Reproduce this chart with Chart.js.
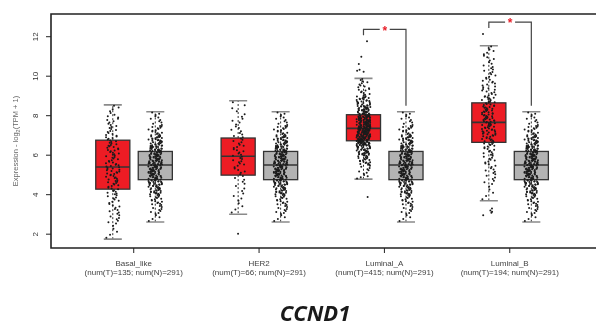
<!DOCTYPE html>
<html>
<head>
<meta charset="utf-8">
<script src="https://cdn.jsdelivr.net/npm/chart.js@4.4.0/dist/chart.umd.min.js"></script>
<style>
  html, body { margin: 0; padding: 0; background: #fff; overflow: hidden; }
  #wrap { width: 596px; height: 326px; position: relative; }
</style>
</head>
<body>
<div id="wrap"><canvas id="chart" width="596" height="326"></canvas></div>
<script>
// ---- data ----
const categories = ["Basal_like", "HER2", "Luminal_A", "Luminal_B"];
const numT = [135, 66, 415, 194];
const numN = [291, 291, 291, 291];
const yTicks = [2, 4, 6, 8, 10, 12];
const geneName = "CCND1";

// box stats [whiskerLow, q1, median, q3, whiskerHigh]
const tumorStats = [
  [1.75, 4.28, 5.40, 6.76, 8.55],
  [3.01, 4.99, 5.95, 6.87, 8.76],
  [4.79, 6.73, 7.36, 8.05, 9.89],
  [3.69, 6.65, 7.66, 8.65, 11.54]
];
const normalStats = [2.62, 4.76, 5.50, 6.19, 8.20];

// histograms of the jittered points: bin edges + counts per bin
const normalEdges  = [2.62, 3, 3.5, 4, 4.5, 5, 5.5, 6, 6.5, 7, 7.5, 8, 8.2];
const normalCounts = [4, 10, 16, 28, 40, 46, 48, 42, 30, 16, 8, 3];

const basalEdges  = [1.75, 2.5, 3, 3.5, 4, 4.5, 5, 5.5, 6, 6.5, 7, 7.5, 8, 8.55];
const basalCounts = [5, 7, 8, 9, 12, 14, 16, 13, 14, 13, 10, 8, 6];

const her2Edges  = [3.01, 3.5, 4, 4.5, 5, 5.5, 6, 6.5, 7, 7.5, 8, 8.76];
const her2Counts = [3, 4, 4, 5, 7, 9, 9, 8, 6, 5, 5];
const her2Outliers = [2.02];

const lumAEdges  = [4.79, 5.5, 6, 6.5, 7, 7.5, 8, 8.5, 9, 9.5, 9.89];
const lumACounts = [12, 22, 38, 84, 90, 72, 45, 26, 12, 7];
const lumAOutliers = [11.77, 10.99, 10.62, 10.33, 10.23, 10.27, 3.88];

const lumBEdges  = [3.69, 4.5, 5, 5.5, 6, 6.5, 7, 7.5, 8, 8.5, 9, 9.5, 10, 10.5, 11, 11.54];
const lumBCounts = [5, 6, 8, 10, 12, 18, 22, 24, 22, 18, 12, 10, 8, 6, 7];
const lumBOutliers = [12.14, 3.30, 3.20, 3.13, 2.96, 3.08];

const tumorBins = [
  { edges: basalEdges, counts: basalCounts, out: [] },
  { edges: her2Edges,  counts: her2Counts,  out: her2Outliers },
  { edges: lumAEdges,  counts: lumACounts,  out: lumAOutliers },
  { edges: lumBEdges,  counts: lumBCounts,  out: lumBOutliers }
];
// significant comparisons (category index)
const significant = [2, 3];

// ---- layout constants ----
const T_OFF = -0.167, N_OFF = 0.172;   // group offsets from category centre
const BOX_HW = 0.136, CAP_HW = 0.072, JIT = 0.055;

// spread binned counts into points, fixed (quadratic Weyl) jitter pattern on x
function binsToPoints(edges, counts, outliers, cx) {
  const pts = [];
  let k = 0;
  const jx = () => { k++; return cx + ((k * k * 0.6180339887 + k * 0.41421356) % 1 - 0.5) * 2 * JIT; };
  counts.forEach((c, i) => {
    const a = edges[i], b = edges[i + 1];
    for (let j = 0; j < c; j++) pts.push({ x: jx(), y: a + (b - a) * (j + 0.5) / c });
  });
  (outliers || []).forEach(v => pts.push({ x: jx(), y: v }));
  return pts;
}

const pointSets = [];
categories.forEach((c, i) => {
  const tb = tumorBins[i];
  pointSets.push(binsToPoints(tb.edges, tb.counts, tb.out, i + T_OFF));
  pointSets.push(binsToPoints(normalEdges, normalCounts, [], i + N_OFF));
});

// ---- drawing plugin: frame, boxes, axes text, brackets, title ----
const boxPlugin = {
  id: "boxPlugin",
  beforeDatasetsDraw(chart) {
    const { ctx, scales: { x, y } } = chart;
    ctx.save();
    const drawBox = (s, cx, fill) => {
      const l = x.getPixelForValue(cx - BOX_HW), r = x.getPixelForValue(cx + BOX_HW);
      const cl = x.getPixelForValue(cx - CAP_HW), cr = x.getPixelForValue(cx + CAP_HW);
      const px = x.getPixelForValue(cx);
      const [lo, q1, md, q3, hi] = s.map(v => y.getPixelForValue(v));
      // whiskers
      ctx.strokeStyle = "#333"; ctx.lineWidth = 1; ctx.setLineDash([2, 2]);
      ctx.beginPath(); ctx.moveTo(px, q3); ctx.lineTo(px, hi);
      ctx.moveTo(px, q1); ctx.lineTo(px, lo); ctx.stroke();
      ctx.setLineDash([]);
      ctx.strokeStyle = "#8a8a8a"; ctx.lineWidth = 1.6;
      ctx.beginPath(); ctx.moveTo(cl, hi); ctx.lineTo(cr, hi);
      ctx.moveTo(cl, lo); ctx.lineTo(cr, lo); ctx.stroke();
      // box
      ctx.fillStyle = fill; ctx.fillRect(l, q3, r - l, q1 - q3);
      ctx.strokeStyle = "#333"; ctx.lineWidth = 1.3;
      ctx.strokeRect(l, q3, r - l, q1 - q3);
      ctx.lineWidth = 1.6;
      ctx.beginPath(); ctx.moveTo(l, md); ctx.lineTo(r, md); ctx.stroke();
    };
    categories.forEach((c, i) => {
      drawBox(tumorStats[i], i + T_OFF, "#ed1c24");
      drawBox(normalStats, i + N_OFF, "#b3b3b3");
    });
    ctx.restore();
  },
  afterDatasetsDraw(chart) {
    const { ctx, chartArea: ca, scales: { x, y } } = chart;
    ctx.save();
    // frame
    ctx.strokeStyle = "#222"; ctx.lineWidth = 1.6;
    ctx.beginPath();
    ctx.moveTo(ca.right + 2, ca.top); ctx.lineTo(ca.left, ca.top);
    ctx.lineTo(ca.left, ca.bottom); ctx.lineTo(ca.right + 2, ca.bottom);
    ctx.stroke();
    // y ticks
    ctx.lineWidth = 1; ctx.fillStyle = "#333";
    ctx.font = "8px 'Liberation Sans', Arial, sans-serif";
    ctx.textAlign = "center"; ctx.textBaseline = "middle";
    yTicks.forEach(t => {
      const py = y.getPixelForValue(t);
      ctx.beginPath(); ctx.moveTo(ca.left - 5, py); ctx.lineTo(ca.left, py); ctx.stroke();
      ctx.save(); ctx.translate(ca.left - 15, py); ctx.rotate(-Math.PI / 2);
      ctx.fillText(String(t), 0, 0); ctx.restore();
    });
    // y title with subscript
    ctx.save();
    ctx.translate(16, 141); ctx.rotate(-Math.PI / 2);
    ctx.fillStyle = "#666";
    const f1 = "7.5px 'Liberation Sans', Arial, sans-serif", f2 = "5.5px 'Liberation Sans', Arial, sans-serif";
    const p1 = "Expression - log", p2 = "2", p3 = "(TPM + 1)";
    ctx.font = f1; const w1 = ctx.measureText(p1).width, w3 = ctx.measureText(p3).width;
    ctx.font = f2; const w2 = ctx.measureText(p2).width;
    let sx = -(w1 + w2 + w3) / 2;
    ctx.textAlign = "left";
    ctx.font = f1; ctx.fillText(p1, sx, 0); sx += w1;
    ctx.font = f2; ctx.fillText(p2, sx, 2.5); sx += w2;
    ctx.font = f1; ctx.fillText(p3, sx, 0);
    ctx.restore();
    // x ticks + labels
    ctx.fillStyle = "#444"; ctx.strokeStyle = "#222";
    ctx.font = "8px 'Liberation Sans', Arial, sans-serif";
    ctx.textAlign = "center";
    categories.forEach((c, i) => {
      const px = x.getPixelForValue(i);
      ctx.beginPath(); ctx.moveTo(px, ca.bottom); ctx.lineTo(px, ca.bottom + 5); ctx.stroke();
      ctx.fillText(c, px, ca.bottom + 16);
      ctx.fillText("(num(T)=" + numT[i] + "; num(N)=" + numN[i] + ")", px, ca.bottom + 25);
    });
    // significance brackets
    significant.forEach(i => {
      const tMax = Math.max(tumorStats[i][4], ...tumorBins[i].out);
      const nMax = normalStats[4];
      const top = Math.max(tMax, nMax) + 0.6;
      const xl = x.getPixelForValue(i + T_OFF), xr = x.getPixelForValue(i + N_OFF);
      const yt = y.getPixelForValue(top);
      const xm = (xl + xr) / 2;
      ctx.strokeStyle = "#444"; ctx.lineWidth = 1.2;
      ctx.beginPath();
      ctx.moveTo(xl, y.getPixelForValue(tMax + 0.3)); ctx.lineTo(xl, yt); ctx.lineTo(xm - 5, yt);
      ctx.moveTo(xm + 5, yt); ctx.lineTo(xr, yt); ctx.lineTo(xr, y.getPixelForValue(nMax + 0.3));
      ctx.stroke();
      ctx.fillStyle = "#e8202a"; ctx.font = "bold 12px 'Liberation Sans', Arial, sans-serif";
      ctx.textBaseline = "middle";
      ctx.fillText("*", xm, yt + 2);
    });
    // gene title
    ctx.fillStyle = "#1a1a1a";
    ctx.font = "italic bold 22px 'Open Sans', 'Liberation Sans', sans-serif";
    ctx.textAlign = "center"; ctx.textBaseline = "alphabetic";
    ctx.fillText(geneName, 315, 321);
    ctx.restore();
  }
};

new Chart(document.getElementById("chart"), {
  type: "scatter",
  data: {
    datasets: pointSets.map(p => ({
      data: p, pointRadius: 1, pointBorderWidth: 0,
      pointBackgroundColor: "#1c1c1c", pointHoverRadius: 1
    }))
  },
  options: {
    responsive: false, animation: false,
    layout: { padding: { left: 51, top: 14, right: 0, bottom: 78 } },
    scales: {
      x: { type: "linear", min: -0.66, max: 3.68, display: false },
      y: { type: "linear", min: 1.3, max: 13.15, display: false }
    },
    plugins: { legend: { display: false }, tooltip: { enabled: false } }
  },
  plugins: [boxPlugin]
});
</script>
</body>
</html>
